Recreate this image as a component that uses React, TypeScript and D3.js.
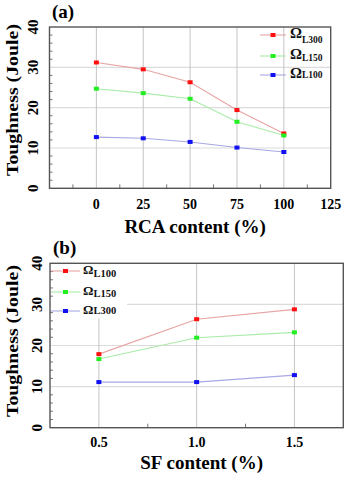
import React, { useRef, useEffect } from 'react';
import * as d3 from 'd3';

// panel (a): toughness vs RCA content
const rcaContent = [0, 25, 50, 75, 100];
const rcaL300 = [31.2, 29.5, 26.3, 19.4, 13.6];
const rcaL150 = [24.7, 23.6, 22.2, 16.5, 13.1];
const rcaL100 = [12.7, 12.4, 11.5, 10.1, 9.0];
const rcaTicks = [0, 25, 50, 75, 100, 125];
const rcaMinor = [-12.5, 12.5, 37.5, 62.5, 87.5, 112.5];

// panel (b): toughness vs SF content
const sfContent = [0.5, 1.0, 1.5];
const sfL100 = [17.9, 26.4, 28.8];
const sfL150 = [16.7, 21.9, 23.2];
const sfL300 = [11.1, 11.1, 12.8];
const sfTicks = [0.5, 1.0, 1.5];
const sfMinor = [0.75, 1.25];

const yTicks = [0, 10, 20, 30, 40];
const yMinor = d3.range(2, 40, 2).filter(v => v % 10 !== 0);

const FONT = '"Liberation Serif", "Times New Roman", Times, serif';
const RED = { line: '#e8a4a4', mark: '#ff1010' };
const GREEN = { line: '#a8eca8', mark: '#22ee22' };
const BLUE = { line: '#a8a8e4', mark: '#1010f0' };

type Series = { name: string; sub: string; values: number[]; color: { line: string; mark: string } };

type PanelOpts = {
    box: { left: number; right: number; top: number; bottom: number };
    xDomain: [number, number];
    xTicks: number[];
    xMinor: number[];
    xFmt: (v: number) => string;
    xs: number[];
    series: Series[];
    label: string;
    labelPos: [number, number];
    xTitle: string;
    xTitleY: number;
    tickLabelY: number;
    yLabelX: number;
    yTitleY: number;
    legend: { x1: number; x2: number; textX: number; rows: number[]; subDy: number[]; big: number; small: number; bg: boolean };
};

function drawPanel(svg: any, o: PanelOpts) {
    const { box } = o;
    const x = d3.scaleLinear().domain(o.xDomain).range([box.left, box.right]);
    const y = d3.scaleLinear().domain([0, 40]).range([box.bottom, box.top]);
    const g = svg.append('g');

    // horizontal grid
    g.selectAll('.hg').data(yTicks.filter(v => v > 0 && v < 40)).enter().append('line')
        .attr('x1', box.left).attr('x2', box.right)
        .attr('y1', d => y(d)).attr('y2', d => y(d))
        .attr('stroke', '#dcdcdc').attr('stroke-width', 1.2);

    // vertical grid
    g.selectAll('.vg').data(o.xTicks.filter(v => x(v) < box.right - 1)).enter().append('line')
        .attr('x1', d => x(d)).attr('x2', d => x(d))
        .attr('y1', box.top).attr('y2', box.bottom)
        .attr('stroke', '#c4c4c4').attr('stroke-width', 1);

    // legend background
    if (o.legend.bg) {
        g.append('rect').attr('x', box.left + 1).attr('y', box.top + 1)
            .attr('width', 76).attr('height', 54).attr('fill', '#fff');
    }

    // minor ticks
    g.selectAll('.ym').data(yMinor).enter().append('line')
        .attr('x1', box.left).attr('x2', box.left + 3)
        .attr('y1', d => y(d)).attr('y2', d => y(d))
        .attr('stroke', '#555').attr('stroke-width', 0.8);
    g.selectAll('.xm').data(o.xMinor).enter().append('line')
        .attr('x1', d => x(d)).attr('x2', d => x(d))
        .attr('y1', box.bottom).attr('y2', box.bottom - 4)
        .attr('stroke', '#555').attr('stroke-width', 0.8);

    // series
    const line = d3.line<number>().x((d, i) => x(o.xs[i])).y(d => y(d));
    o.series.forEach(s => {
        g.append('path').attr('d', line(s.values)).attr('fill', 'none')
            .attr('stroke', s.color.line).attr('stroke-width', 1.1);
        g.selectAll(null).data(s.values).enter().append('rect')
            .attr('x', (d, i) => x(o.xs[i]) - 2.5).attr('y', d => y(d) - 2)
            .attr('width', 5).attr('height', 4).attr('fill', s.color.mark);
    });

    // frame
    g.append('rect').attr('x', box.left).attr('y', box.top)
        .attr('width', box.right - box.left).attr('height', box.bottom - box.top)
        .attr('fill', 'none').attr('stroke', '#555').attr('stroke-width', 1.4);

    // legend
    const L = o.legend;
    o.series.forEach((s, i) => {
        const ry = L.rows[i];
        g.append('line').attr('x1', L.x1).attr('x2', L.x2).attr('y1', ry).attr('y2', ry)
            .attr('stroke', s.color.line).attr('stroke-width', 1.1);
        g.append('rect').attr('x', (L.x1 + L.x2) / 2 - 2.5).attr('y', ry - 2)
            .attr('width', 5).attr('height', 4).attr('fill', s.color.mark);
        const t = g.append('text').attr('x', L.textX).attr('y', ry + 3)
            .style('font-weight', 'bold').attr('fill', '#111');
        t.append('tspan').style('font-size', `${L.big}px`).text(s.name);
        t.append('tspan').style('font-size', `${L.small}px`).attr('dy', L.subDy[i]).text(s.sub);
    });

    // y tick labels (rotated)
    yTicks.forEach(v => {
        g.append('text').attr('transform', `translate(${o.yLabelX},${y(v)}) rotate(-90)`)
            .attr('text-anchor', 'middle').attr('dominant-baseline', 'central')
            .style('font-weight', 'bold').style('font-size', '15px')
            .text(v);
    });

    // x tick labels
    o.xTicks.forEach(v => {
        g.append('text').attr('x', x(v)).attr('y', o.tickLabelY)
            .attr('text-anchor', 'middle')
            .style('font-weight', 'bold').style('font-size', '14px')
            .text(o.xFmt(v));
    });

    // titles
    g.append('text').attr('transform', `translate(12,${o.yTitleY}) rotate(-90)`)
        .attr('text-anchor', 'middle').attr('dominant-baseline', 'central')
        .style('font-weight', 'bold').style('font-size', '17px')
        .attr('textLength', 152).attr('lengthAdjust', 'spacingAndGlyphs')
        .text('Toughness (Joule)');
    g.append('text').attr('x', (box.left + box.right) / 2 + 5).attr('y', o.xTitleY)
        .attr('text-anchor', 'middle')
        .style('font-weight', 'bold').style('font-size', '19px')
        .text(o.xTitle);
    g.append('text').attr('x', o.labelPos[0]).attr('y', o.labelPos[1])
        .style('font-weight', 'bold').style('font-size', '19px')
        .text(o.label);
}

const App = () => {
    const ref = useRef<SVGSVGElement>(null);

    useEffect(() => {
        const svg = d3.select(ref.current);
        svg.selectAll('*').remove();
        svg.append('rect').attr('width', 351).attr('height', 480).attr('fill', '#fff');

        drawPanel(svg, {
            box: { left: 49.5, right: 330.7, top: 27, bottom: 188.3 },
            xDomain: [-25, 125],
            xTicks: rcaTicks,
            xMinor: rcaMinor,
            xFmt: v => String(v),
            xs: rcaContent,
            series: [
                { name: 'Ω', sub: 'L300', values: rcaL300, color: RED },
                { name: 'Ω', sub: 'L150', values: rcaL150, color: GREEN },
                { name: 'Ω', sub: 'L100', values: rcaL100, color: BLUE },
            ],
            label: '(a)',
            labelPos: [52, 18],
            xTitle: 'RCA content (%)',
            xTitleY: 233,
            tickLabelY: 209,
            yLabelX: 33,
            yTitleY: 100,
            legend: { x1: 260, x2: 286, textX: 290, rows: [35, 56, 75], subDy: [5, 2, 0], big: 15, small: 9.5, bg: false },
        });

        drawPanel(svg, {
            box: { left: 50, right: 343.3, top: 263.3, bottom: 427.7 },
            xDomain: [0.25, 1.75],
            xTicks: sfTicks,
            xMinor: sfMinor,
            xFmt: v => v.toFixed(1),
            xs: sfContent,
            series: [
                { name: 'Ω', sub: 'L100', values: sfL100, color: RED },
                { name: 'Ω', sub: 'L150', values: sfL150, color: GREEN },
                { name: 'Ω', sub: 'L300', values: sfL300, color: BLUE },
            ],
            label: '(b)',
            labelPos: [53, 254],
            xTitle: 'SF content (%)',
            xTitleY: 469,
            tickLabelY: 447,
            yLabelX: 37,
            yTitleY: 341,
            legend: { x1: 51, x2: 80, textX: 83, rows: [271, 292, 311], subDy: [3, 2, 0], big: 13, small: 10.5, bg: true },
        });
    }, []);

    return (
        <svg ref={ref} width={351} height={480}
            style={{ position: 'absolute', left: 0, top: 0, fontFamily: FONT }}></svg>
    );
};

export default App;
